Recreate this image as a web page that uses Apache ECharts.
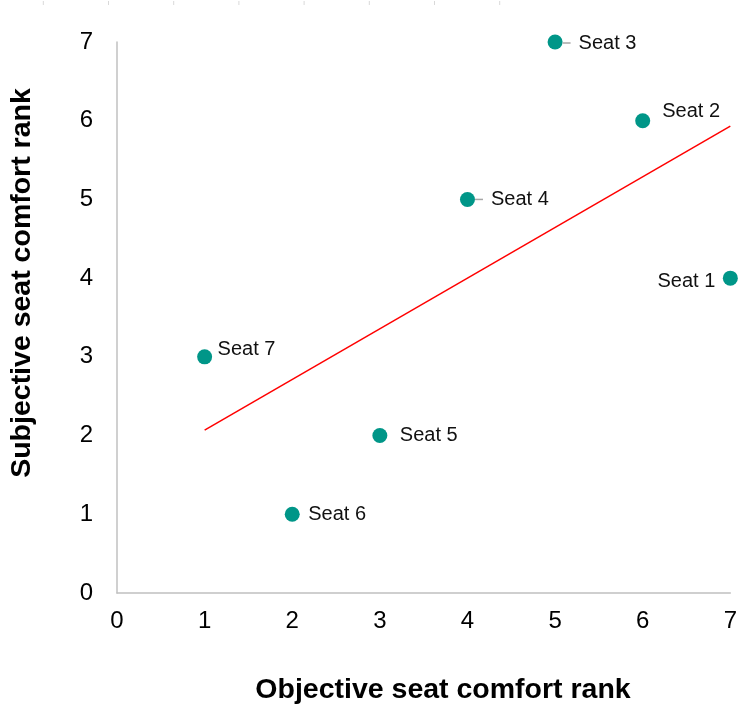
<!DOCTYPE html>
<html><head><meta charset="utf-8">
<script src="https://cdn.jsdelivr.net/npm/echarts@6/dist/echarts.min.js"></script>
<style>html,body{margin:0;padding:0;background:#fff}#c{width:740px;height:704px}</style>
</head><body><div id="c"></div>
<script>
const seatNames = ['Seat 1','Seat 2','Seat 3','Seat 4','Seat 5','Seat 6','Seat 7'];
const objectiveRank = [7, 6, 5, 4, 3, 2, 1];
const subjectiveRank = [4, 6, 7, 5, 2, 1, 3];
const trendX = [1, 7];
const trendY = [2.07, 5.93];
const xTitle = 'Objective seat comfort rank';
const yTitle = 'Subjective seat comfort rank';

// label layout (style, not data)
const labelSide = ['left','right','right','right','right','right','right'];
const leaderLine = [false, false, true, true, false, false, false];
const labelDist = [7.5, 12, 0, 0, 12.5, 8.5, 5.5];
const labelDy = [3.5, -9, 1, 0, 0, 0, -7.5];

const font = '"Liberation Sans", Arial, sans-serif';
const chart = echarts.init(document.getElementById('c'), null, {renderer:'canvas'});
const pts = seatNames.map((n,i)=>({
  name: n,
  value: [objectiveRank[i], subjectiveRank[i]],
  label: {
    position: labelSide[i], distance: labelDist[i], offset: [0, labelDy[i]],
    formatter: leaderLine[i] ? '{ln|}{tp|{b}}' : '{t|{b}}'
  }
}));
const topTicks = [];
for (let k=0;k<8;k++){ const x = 43.3 + k*65.2; topTicks.push({type:'line', shape:{x1:x,y1:1,x2:x,y2:5}, style:{stroke:'#d9d9d9', lineWidth:1}}); }
chart.setOption({
  animation:false,
  grid:{left:117, right:6, top:42, bottom:111},
  xAxis:{type:'value', min:0, max:7, interval:1,
    axisLine:{show:true, lineStyle:{color:'#c0c0c0', width:1.5}},
    axisTick:{show:false}, splitLine:{show:false},
    axisLabel:{color:'#000', fontSize:24, fontFamily:font, margin:16}},
  yAxis:{type:'value', min:0, max:7, interval:1,
    axisLine:{show:true, lineStyle:{color:'#c0c0c0', width:1.5}},
    axisTick:{show:false}, splitLine:{show:false},
    axisLabel:{color:'#000', fontSize:24, fontFamily:font, margin:24}},
  graphic:[
    {type:'text', x:443, y:690, style:{text:xTitle, font:'bold 28.5px '+font, fill:'#000', textAlign:'center', textVerticalAlign:'middle'}},
    {type:'text', x:22, y:283, rotation:Math.PI/2, style:{text:yTitle, font:'bold 28.5px '+font, fill:'#000', textAlign:'center', textVerticalAlign:'middle'}}
  ].concat(topTicks),
  series:[
    {type:'line', data: trendX.map((x,i)=>[x, trendY[i]]), symbol:'none',
      lineStyle:{color:'#ff0000', width:1.5}, z:1, silent:true},
    {type:'scatter', data: pts, symbolSize:15, z:3,
      itemStyle:{color:'#009688', opacity:1},
      label:{show:true, color:'#111', fontSize:20, fontFamily:font,
        rich:{
          t:{color:'#111', fontSize:20, fontFamily:font},
          tp:{color:'#111', fontSize:20, fontFamily:font, padding:[0,0,0,8]},
          ln:{width:8, height:1.5, backgroundColor:'#a6a6a6'}
        }}}
  ]
});
</script></body></html>
